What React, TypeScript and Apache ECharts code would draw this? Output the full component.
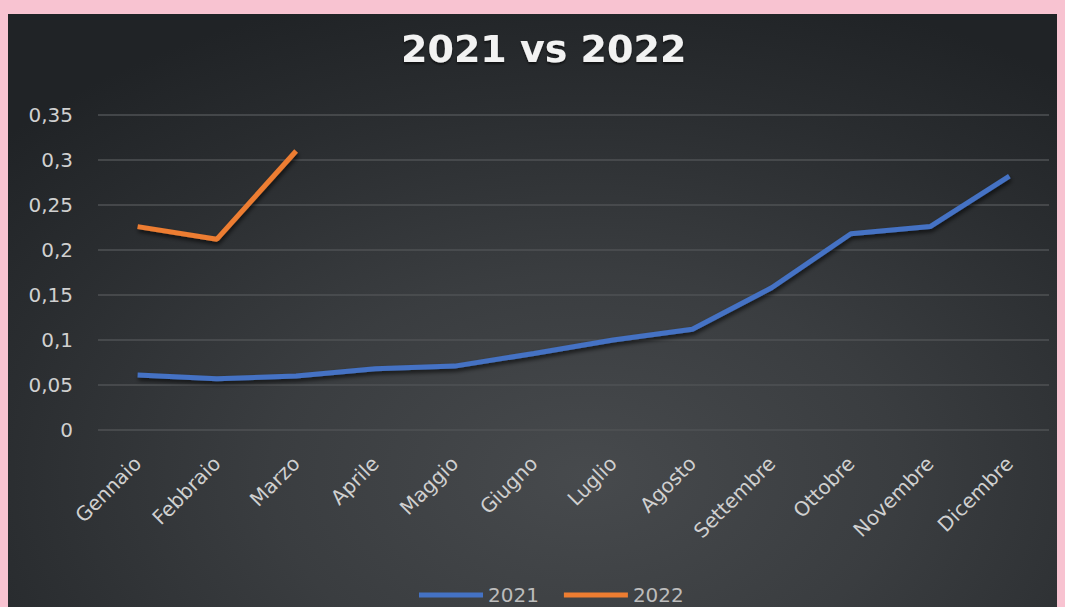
import React, { useEffect, useRef } from "react";
import * as echarts from "echarts";

const months = [
  "Gennaio", "Febbraio", "Marzo", "Aprile", "Maggio", "Giugno",
  "Luglio", "Agosto", "Settembre", "Ottobre", "Novembre", "Dicembre",
];
const values2021 = [0.061, 0.057, 0.06, 0.068, 0.071, 0.085, 0.1, 0.112, 0.158, 0.218, 0.226, 0.282];
const values2022 = [0.226, 0.212, 0.31];
const seriesNames = ["2021", "2022"];
const titleText = "2021 vs 2022";

export default function App() {
  const ref = useRef<HTMLDivElement>(null);
  useEffect(() => {
    document.body.style.margin = "0";
    const chart = echarts.init(ref.current!, null, { renderer: "svg" });
    const lineShadow = {
      shadowColor: "rgba(0,0,0,0.65)",
      shadowBlur: 4,
      shadowOffsetX: 1,
      shadowOffsetY: 3,
    };
    chart.setOption({
      animation: false,
      backgroundColor: "transparent",
      textStyle: { fontFamily: "DejaVu Sans" },
      title: {
        text: titleText,
        left: 388,
        top: 11,
        textStyle: {
          color: "#f2f2f2",
          fontSize: 38,
          fontWeight: "bold",
          fontFamily: "DejaVu Sans",
          textShadowColor: "rgba(0,0,0,0.6)",
          textShadowBlur: 2,
          textShadowOffsetY: 2,
        },
      },
      legend: {
        left: 406,
        top: 566,
        icon: "rect",
        itemWidth: 64,
        itemHeight: 5,
        itemGap: 25,
        data: seriesNames,
        textStyle: { color: "#bcbcbc", fontSize: 20, fontFamily: "DejaVu Sans" },
      },
      grid: { left: 90, right: 8, top: 101, bottom: 177, containLabel: false },
      xAxis: {
        type: "category",
        data: months,
        boundaryGap: true,
        axisLine: { show: false },
        axisTick: { show: false },
        axisLabel: {
          rotate: 45,
          interval: 0,
          margin: 30,
          color: "#d0d0d0",
          fontSize: 20,
          fontFamily: "DejaVu Sans",
        },
      },
      yAxis: {
        type: "value",
        min: 0,
        max: 0.35,
        interval: 0.05,
        axisLine: { show: false },
        axisTick: { show: false },
        splitLine: { lineStyle: { color: "#4f5255", width: 1.5 } },
        axisLabel: {
          margin: 25,
          color: "#d0d0d0",
          fontSize: 20,
          fontFamily: "DejaVu Sans",
          formatter: (v: number) => String(parseFloat(v.toFixed(2))).replace(".", ","),
        },
      },
      series: [
        {
          name: seriesNames[0],
          type: "line",
          data: values2021,
          showSymbol: false,
          symbol: "none",
          itemStyle: { color: "#4472C4" },
          lineStyle: { color: "#4472C4", width: 5, ...lineShadow },
        },
        {
          name: seriesNames[1],
          type: "line",
          data: values2022,
          showSymbol: false,
          symbol: "none",
          itemStyle: { color: "#ED7D31" },
          lineStyle: { color: "#ED7D31", width: 5, ...lineShadow },
        },
      ],
    });
    return () => chart.dispose();
  }, []);

  return (
    <div style={{ position: "relative", width: 1065, height: 607, background: "#F8C3D1", overflow: "hidden" }}>
      <div
        ref={ref}
        style={{
          position: "absolute",
          left: 8,
          top: 14,
          width: 1049,
          height: 593,
          background:
            "radial-gradient(ellipse 75% 85% at 55% 78%, #474a4d 0%, #3a3d40 40%, #2a2d30 75%, #202326 100%)",
        }}
      />
    </div>
  );
}
